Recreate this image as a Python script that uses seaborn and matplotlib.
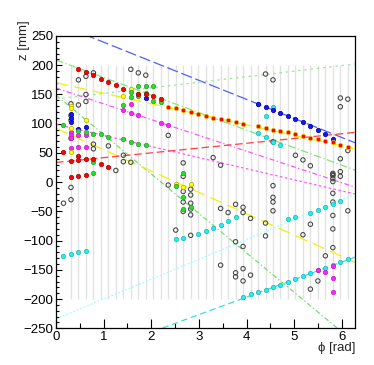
import numpy as np
import pandas as pd
import matplotlib
matplotlib.use("Agg")
import matplotlib.pyplot as plt
import seaborn as sns
from matplotlib.ticker import MultipleLocator

# ---------------- data ----------------
N_SECTORS = 40                      # phi sectors (grid lines at k * 2pi/40)
grid_k = list(range(2, 40))
grid_zmin, grid_zmax = -200, 200

# track lines  z = z0 + slope * phi
track_z0 = [272, 209, 142.4, 149, 170, 92, 161, 99, 33.7, -234, -316.6]
track_slope = [-32.6, -30, 9.5, -67.5, -18, -36.5, -27, -19, 8.2, 34, 30]
track_color = ["#4f5fff", "#7ee87e", "#9be89b", "#6fe06f", "#f2f200", "#f2f200",
               "#ff55ff", "#ff55ff", "#ff4040", "#99ffff", "#33e0e0"]
track_style = [(0, (9, 3)), (0, (6, 2, 1, 2)), (0, (2, 3)), (0, (4, 2, 1, 2)),
               (0, (10, 5)), (0, (10, 5)), (0, (4, 2, 1, 2)), (0, (2, 2)),
               (0, (6, 3)), (0, (1.5, 1.5)), (0, (5, 3))]

red_k = [1, 2, 2, 3, 3, 3, 3, 4, 4, 4, 5, 5, 6, 6, 7, 7, 8, 9, 11, 12, 13, 14]
red_z = [52, 36, 8, 193, 45, 38, 10, 189, 40, 12, 183, 40, 177, 31, 172, 26, 166, 160, 150, 150, 148, 143]
redy_k = [15, 16, 17, 18, 19, 20, 21, 22, 23, 24, 25, 27, 28, 29, 30, 31, 32, 33, 34, 35, 36, 37, 38, 39]
redy_z = [129, 127, 123, 120, 116, 113, 110, 108, 106, 103, 100, 96, 93, 90, 87, 85, 82, 79, 76, 73, 71, 68, 63, 60]

green_k = [1, 3, 4, 5, 6, 7, 9, 10, 11, 12, 5, 5, 9, 10, 10, 11, 11, 11, 12, 12, 13, 13, 14,
           17, 16, 17, 17, 18]
green_z = [97, 88, 86, 83, 82, 78, 73, 69, 65, 63, 34, 15, 132, 155, 146, 164, 151, 147, 164, 152, 164, 138, 137,
           16, -7, -26, -46, -42]

blue_k = [2, 2, 2, 3, 4, 12, 27, 28, 29, 30, 31, 32, 33, 34, 35, 36, 37]
blue_z = [117, 110, 103, 91, 95, 144, 133, 128, 124, 118, 114, 108, 103, 96, 90, 82, 74]

yellow_k = [2, 2, 2, 2, 4, 9, 10, 16, 17, 18]
yellow_z = [130, 126, 93, 52, 106, 147, 160, -3, -9, -3]

magenta_k = [2, 2, 2, 2, 3, 3, 4, 4, 9, 10, 10, 11, 14, 15, 35, 36, 37, 37, 37]
magenta_z = [86, 81, 76, 59, 80, 60, 80, 60, 123, 134, 119, 115, 102, 97, -151, -154, -143, -164, -188]

cyan_k = [1, 2, 3, 4, 16, 17, 19, 20, 21, 22, 23, 24,
          25, 26, 27, 28, 29, 30, 31, 32, 33, 34, 35, 36, 37, 38, 39,
          31, 32, 34, 35, 36, 37, 38, 27, 28, 29, 27, 28, 29, 30]
cyan_z = [-126, -123, -120, -118, -97, -95, -88, -84, -79, -73, -66, -60,
          -196, -192, -188, -184, -180, -176, -170, -166, -160, -156, -150, -147, -141, -137, -132,
          -63, -60, -53, -48, -43, -37, -32, 133, 113, 129, 84, 77, 69, 63]

open_k = [1, 2, 2, 2, 2, 2, 2, 3, 3, 4, 4, 4, 5, 5, 5, 7, 8, 9, 9, 10, 10, 11, 12,
          15, 15, 16, 17, 17, 17, 17, 17, 18, 18, 18, 18, 18, 18,
          21, 22, 22, 22, 23, 24, 24, 24, 24, 25, 25, 25, 25, 25, 26, 26,
          28, 28, 28, 29, 29, 29, 29, 29, 29, 32, 33, 34, 33, 34, 34, 35, 36,
          37, 37, 37, 37, 37, 37, 37, 37, 37, 37, 38, 38, 38, 38, 38, 39, 39, 39]
open_z = [-36, 134, 114, 106, 75, -9, -30, 175, 132, 181, 150, 138, 187, 65, 57, 62, 20, 46, 35, 193, 34, 187, 183,
          80, -5, -82, 33, 10, -16, -34, -50, -12, -22, -36, -46, -56, -91,
          42, 29, -45, -142, -52, -38, -102, -155, -162, -43, -52, -110, -148, -169, -62, -159,
          185, -70, -92, 175, 69, -6, -26, -34, -49, 46, 38, 28, -90, -72, -183, -169, -126,
          15, 11, 6, 1, -19, -34, -57, -80, -112, 13, 144, 129, 40, 18, 10, 142, 54, -49]

# --------------- figure ---------------
sns.set_theme(style="ticks")
plt.rcParams["font.family"] = ["Liberation Sans", "DejaVu Sans"]

W, H = 374, 365
fig = plt.figure(figsize=(W / 100, H / 100), dpi=100)
x0, x1, y0, y1 = 56, 355.3, 36, 328.3
ax = fig.add_axes([x0 / W, 1 - y1 / H, (x1 - x0) / W, (y1 - y0) / H])

TWO_PI = 2 * np.pi
step = TWO_PI / N_SECTORS

def phi_of(k):
    return np.asarray(k, dtype=float) * step

# background sector lines
ax.vlines(phi_of(grid_k), grid_zmin, grid_zmax, color="#e2e2e2", lw=1.0, zorder=1)

# tracks
phi_line = np.array([0.0, TWO_PI])
for z0, sl, c, ls in zip(track_z0, track_slope, track_color, track_style):
    df = pd.DataFrame({"phi": phi_line, "z": z0 + sl * phi_line})
    sns.lineplot(data=df, x="phi", y="z", color=c, lw=0.9, linestyle=ls,
                 ax=ax, sort=False, estimator=None, zorder=2)

S = 10
def filled(k, z, face, edge):
    sns.scatterplot(x=phi_of(k), y=z, color=face, edgecolor=edge, s=S,
                    linewidth=0.5, ax=ax, zorder=4)

sns.scatterplot(x=phi_of(open_k), y=open_z, marker="o", s=S, facecolor="none",
                edgecolor="#444444", linewidth=0.75, ax=ax, zorder=3)
filled(cyan_k, cyan_z, "#22eeee", "#22b5b5")
filled(magenta_k, magenta_z, "#ff22ff", "#c020c0")
filled(yellow_k, yellow_z, "#ffff00", "#b0b000")
filled(blue_k, blue_z, "#1515ff", "#0000a0")
filled(green_k, green_z, "#22e022", "#339933")
filled(red_k, red_z, "#ff0000", "#b00000")
filled(redy_k, redy_z, "#ff0000", "#f0c000")

ax.set_xlim(0, TWO_PI)
ax.set_ylim(-250, 250)
ax.set_xlabel("")
ax.set_ylabel("")
ax.xaxis.set_major_locator(MultipleLocator(1))
ax.xaxis.set_minor_locator(MultipleLocator(0.5))
ax.yaxis.set_major_locator(MultipleLocator(50))
ax.yaxis.set_minor_locator(MultipleLocator(10))
ax.tick_params(axis="both", which="both", direction="in", top=False, right=False,
               bottom=True, left=True, labelsize=9.5, colors="black", width=0.8)
ax.tick_params(axis="x", which="major", length=6.5, pad=2)
ax.tick_params(axis="x", which="minor", length=3.5)
ax.tick_params(axis="y", which="major", length=4.5, pad=2)
ax.tick_params(axis="y", which="minor", length=2.5)
ax.set_yticks(np.arange(-250, 251, 50))
ax.set_yticklabels([f"{v}".replace("-", "\u2212") for v in range(-250, 251, 50)])
for sp in ax.spines.values():
    sp.set_color("black")
    sp.set_linewidth(0.9)
    sp.set_visible(True)

fig.text(24.5 / W, 1 - 20 / H, "z [mm]", rotation=90, ha="center", va="top", fontsize=9.5)
fig.text(x1 / W, 1 - 348 / H, "\u03d5 [rad]", ha="right", va="center", fontsize=9.5)

fig.savefig("out.png", dpi=100)
